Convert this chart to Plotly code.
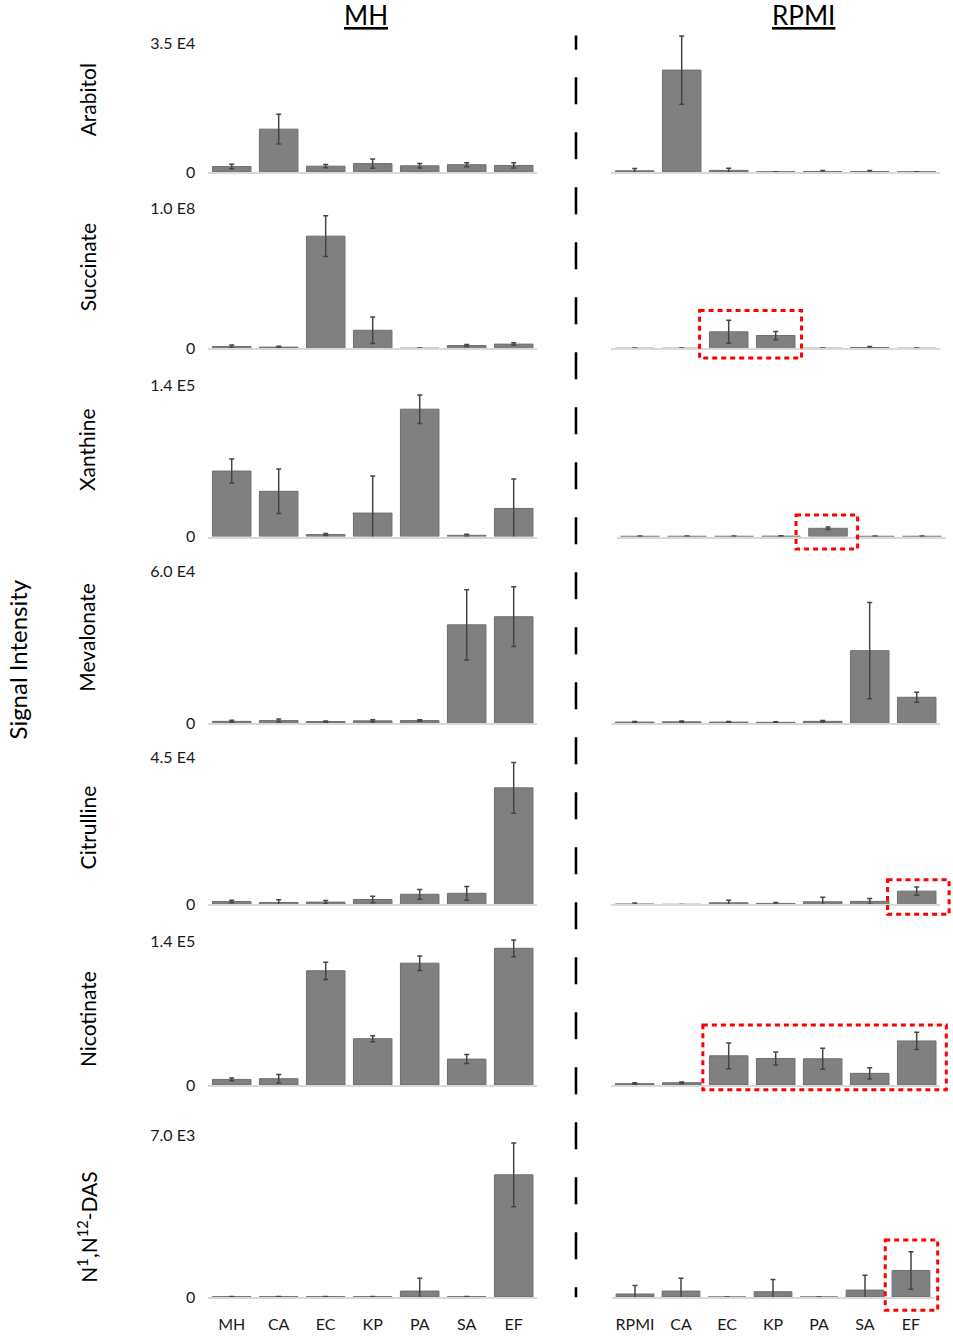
import plotly.graph_objects as go

W, H = 953, 1339

# ---------------- data ----------------
mh_categories = ["MH", "CA", "EC", "KP", "PA", "SA", "EF"]
rpmi_categories = ["RPMI", "CA", "EC", "KP", "PA", "SA", "EF"]

metabolites = ["Arabitol", "Succinate", "Xanthine", "Mevalonate", "Citrulline",
               "Nicotinate", "N<sup>1</sup>,N<sup>12</sup>-DAS"]
y_max_values = [35000, 1.0e8, 1.4e5, 6.0e4, 4.5e4, 1.4e5, 7000]
y_max_labels = ["3.5 E4", "1.0 E8", "1.4 E5", "6.0 E4", "4.5 E4", "1.4 E5", "7.0 E3"]

arabitol_mh = [1500, 11700, 1600, 2300, 1700, 2000, 1800]
arabitol_mh_err = [600, 4050, 450, 1250, 600, 550, 700]
arabitol_rpmi = [350, 27800, 450, 50, 100, 100, 50]
arabitol_rpmi_err = [600, 9300, 550, 0, 300, 300, 0]

succinate_mh = [1.4e6, 0.95e6, 8.03e7, 1.30e7, 0.2e6, 2.1e6, 3.1e6]
succinate_mh_err = [1.0e6, 0.7e6, 1.45e7, 0.94e7, 0.1e6, 0.7e6, 0.9e6]
succinate_rpmi = [0.15e6, 0.15e6, 1.19e7, 0.92e7, 0.15e6, 0.6e6, 0.15e6]
succinate_rpmi_err = [0.1e6, 0.1e6, 0.82e7, 0.3e7, 0.1e6, 0.8e6, 0.1e6]

xanthine_mh = [60800, 42000, 1840, 21800, 118200, 1200, 26100]
xanthine_mh_err = [11100, 20700, 900, 34400, 13200, 900, 27300]
xanthine_rpmi = [300, 300, 300, 400, 7700, 300, 300]
xanthine_rpmi_err = [200, 200, 200, 300, 1200, 200, 200]

mevalonate_mh = [700, 1000, 600, 900, 1000, 38800, 42000]
mevalonate_mh_err = [400, 600, 250, 400, 300, 13900, 11800]
mevalonate_rpmi = [400, 500, 400, 300, 700, 28600, 10200]
mevalonate_rpmi_err = [250, 300, 200, 200, 300, 19000, 2000]

citrulline_mh = [900, 600, 700, 1500, 3100, 3400, 35800]
citrulline_mh_err = [400, 800, 500, 1000, 1500, 2100, 7800]
citrulline_rpmi = [100, 0, 500, 300, 800, 920, 4070]
citrulline_rpmi_err = [300, 0, 800, 300, 1400, 900, 1300]

nicotinate_mh = [5400, 6100, 111300, 45100, 118700, 25200, 133200]
nicotinate_mh_err = [1300, 4200, 8400, 2900, 7100, 4400, 8200]
nicotinate_rpmi = [1300, 2200, 28400, 25800, 25500, 11300, 42900]
nicotinate_rpmi_err = [800, 800, 12600, 6400, 10300, 5500, 8400]

das_mh = [15, 15, 15, 15, 258, 15, 5290]
das_mh_err = [10, 10, 10, 10, 560, 10, 1380]
das_rpmi = [130, 258, 0, 230, 0, 300, 1150]
das_rpmi_err = [370, 550, 0, 530, 0, 640, 810]

mh_series = [(arabitol_mh, arabitol_mh_err), (succinate_mh, succinate_mh_err),
             (xanthine_mh, xanthine_mh_err), (mevalonate_mh, mevalonate_mh_err),
             (citrulline_mh, citrulline_mh_err), (nicotinate_mh, nicotinate_mh_err),
             (das_mh, das_mh_err)]
rpmi_series = [(arabitol_rpmi, arabitol_rpmi_err), (succinate_rpmi, succinate_rpmi_err),
               (xanthine_rpmi, xanthine_rpmi_err), (mevalonate_rpmi, mevalonate_rpmi_err),
               (citrulline_rpmi, citrulline_rpmi_err), (nicotinate_rpmi, nicotinate_rpmi_err),
               (das_rpmi, das_rpmi_err)]

# highlighted groups in RPMI: (row, first category pos, last category pos, top value, bottom value)
highlights = [
    (1, 1.38, 3.55, 2.72e7, -0.69e7),
    (2, 3.32, 4.63, 20000, -11500),
    (4, 5.38, 6.69, 7530, -3060),
    (5, 1.45, 6.63, 58400, -4550),
    (6, 5.44, 6.58, 2470, -570),
]

# ---------------- layout geometry (pixels) ----------------
row_baseline_px = [173.2, 350.8, 540.2, 728.0, 910.5, 1092.3, 1305.8]
row_maxtick_px = [44.0, 210.0, 388.3, 575.0, 763.0, 947.7, 1143.0]
left_x_px = (208.2, 537.2)
right_x_px = [(611.2, 940.2), (611.2, 940.2), (616.5, 945.5), (611.2, 940.2),
              (611.2, 940.2), (611.2, 940.2), (612.0, 934.0)]
RANGE_F = 1.1

BAR = "#808080"
BAR_LINE = "#6f6f6f"
ERR = "#454545"
AXIS_LINE = "#d9d9d9"
FONT = "Lato"


def px(p):
    return p / W


def py(p):
    return 1 - p / H


fig = go.Figure()
layout = dict(
    width=W, height=H, margin=dict(l=0, r=0, t=0, b=0),
    paper_bgcolor="white", plot_bgcolor="white", showlegend=False,
    bargap=0.18, font=dict(family=FONT, color="#000000"),
)

for r in range(7):
    b, t = row_baseline_px[r], row_maxtick_px[r]
    top = b - (b - t) * RANGE_F
    ydom = [py(b), py(top)]
    for c in range(2):
        k = r * 2 + c + 1
        sfx = "" if k == 1 else str(k)
        cats = mh_categories if c == 0 else rpmi_categories
        vals, errs = (mh_series if c == 0 else rpmi_series)[r]
        xpx = left_x_px if c == 0 else right_x_px[r]
        fig.add_trace(go.Bar(
            x=cats, y=vals, xaxis="x" + sfx, yaxis="y" + sfx,
            marker=dict(color=BAR, line=dict(color=BAR_LINE, width=1)),
            error_y=dict(type="data", array=errs, visible=True, color=ERR,
                         thickness=1.5, width=2.5),
            hoverinfo="x+y",
        ))
        layout["xaxis" + sfx] = dict(
            domain=[px(xpx[0]), px(xpx[1])], anchor="y" + sfx,
            type="category", categoryorder="array", categoryarray=cats,
            showline=True, linecolor=AXIS_LINE, linewidth=1.5,
            showgrid=False, zeroline=False, ticks="",
            showticklabels=(r == 6), ticklabelstandoff=12,
            tickfont=dict(family=FONT, size=16, color="#1a1a1a"),
        )
        layout["yaxis" + sfx] = dict(
            domain=ydom, anchor="x" + sfx,
            range=[0, y_max_values[r] * RANGE_F],
            showline=False, showgrid=False, zeroline=False, ticks="",
            tickmode="array", tickvals=[0, y_max_values[r]],
            ticktext=["0", y_max_labels[r]],
            showticklabels=(c == 0), ticklabelstandoff=12,
            tickfont=dict(family=FONT, size=16, color="#1a1a1a"),
        )

annotations = [
    dict(text="<u>MH</u>", x=px(366), y=py(15), xref="paper", yref="paper",
         xanchor="center", yanchor="middle",
         showarrow=False, font=dict(family=FONT, size=26, color="#000")),
    dict(text="<u>RPMI</u>", x=px(803), y=py(15), xref="paper", yref="paper",
         xanchor="center", yanchor="middle",
         showarrow=False, font=dict(family=FONT, size=26, color="#000")),
    dict(text="Signal Intensity", x=px(18), y=py(664), xref="paper", yref="paper",
         xanchor="center", yanchor="middle",
         showarrow=False, textangle=-90, font=dict(family=FONT, size=24, color="#000")),
]
label_center_px = [101, 269, 453, 642, 833, 1026, 1236]
for r, name in enumerate(metabolites):
    annotations.append(dict(
        text=name, x=px(87), y=py(label_center_px[r]), xref="paper", yref="paper",
        xanchor="center", yanchor="middle",
        showarrow=False, textangle=-90, font=dict(family=FONT, size=21, color="#000")))
layout["annotations"] = annotations

shapes = []
# dashed divider between media
shapes.append(dict(type="line", xref="paper", yref="paper", x0=px(576), x1=px(576),
                   y0=py(35.7), y1=py(50), line=dict(color="#000", width=2.6)))
shapes.append(dict(type="line", xref="paper", yref="paper", x0=px(576), x1=px(576),
                   y0=py(77.7), y1=py(1306), line=dict(color="#000", width=2.6, dash="27px,28px")))

# red dotted highlight boxes
for (r, i0, i1, vtop, vbot) in highlights:
    b, t = row_baseline_px[r], row_maxtick_px[r]
    xs, xe = right_x_px[r]
    step = (xe - xs) / 7
    x0 = xs + (i0 + 0.5) * step
    x1 = xs + (i1 + 0.5) * step
    y0 = b - (b - t) * vtop / y_max_values[r]
    y1 = b - (b - t) * vbot / y_max_values[r]
    shapes.append(dict(type="rect", xref="paper", yref="paper",
                       x0=px(x0), x1=px(x1), y0=py(y0), y1=py(y1),
                       line=dict(color="#ff0000", width=3, dash="5px,4px"),
                       fillcolor="rgba(0,0,0,0)"))
layout["shapes"] = shapes

fig.update_layout(**layout)
fig.write_html(
    "out.html",
    config={"displayModeBar": False},
    post_script=(
        "document.documentElement.style.margin='0';"
        "document.documentElement.style.overflow='hidden';"
        "document.body.style.margin='0';document.body.style.padding='0';"
        "document.body.style.overflow='hidden';"
        "var gd=document.getElementById('{plot_id}');"
        "gd.style.position='fixed';gd.style.top='0px';gd.style.left='0px';"
    ),
)
